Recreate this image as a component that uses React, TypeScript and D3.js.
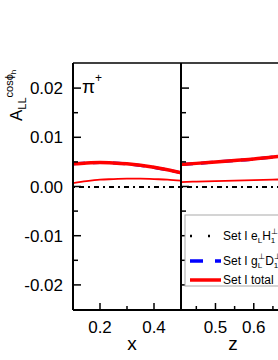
import * as d3 from "d3";

// left panel: x dependence
const xVals = [0.1, 0.15, 0.2, 0.25, 0.3, 0.35, 0.4, 0.45, 0.5];
const xTotal = [0.0046, 0.0048, 0.0049, 0.0048, 0.0046, 0.0043, 0.0039, 0.0034, 0.0028];
const xGD = [0.00458, 0.00478, 0.00488, 0.00478, 0.00458, 0.00428, 0.00388, 0.00338, 0.00278];
const xEH = [-0.0001, -0.0001, -0.0001, -0.0001, -0.0001, -0.0001, -0.0001, -0.0001, -0.0001];
const xSet2 = [0.0007, 0.0011, 0.0014, 0.0015, 0.0016, 0.0016, 0.0015, 0.0014, 0.0012];

// right panel: z dependence
const zVals = [0.41, 0.45, 0.5, 0.55, 0.6, 0.65, 0.7];
const zTotal = [0.0045, 0.0047, 0.005, 0.0053, 0.0056, 0.006, 0.0063];
const zGD = [0.00448, 0.00468, 0.00498, 0.00528, 0.00558, 0.00598, 0.00628];
const zEH = [-0.0001, -0.0001, -0.0001, -0.0001, -0.0001, -0.0001, -0.0001];
const zSet2 = [0.0009, 0.001, 0.0011, 0.0012, 0.0013, 0.0014, 0.0015];

const yMajor = [-0.02, -0.01, 0, 0.01, 0.02];
const yMinor = [-0.015, -0.005, 0.005, 0.015];
const xMajor = [0.2, 0.4];
const xMinor = [0.3];
const zMajor = [0.5, 0.6];
const zMinor = [0.45, 0.55, 0.65];

const TOP = 63;
const BOTTOM = 310;
const L0 = 73;
const MID = 181;
const R1 = 360;

const y = d3.scaleLinear().domain([-0.0251, 0.0251]).range([BOTTOM, TOP]);
const xs = d3.scaleLinear().domain([0.1, 0.5]).range([L0, MID]);
const zs = d3.scaleLinear().domain([0.41, 0.87]).range([MID, MID + 0.46 * 383]);

const styles = {
  eh: { stroke: "#000", width: 2, dash: "2,4,5,4" },
  gd: { stroke: "#0000ff", width: 3, dash: "12,8" },
  total: { stroke: "#ff0000", width: 3.5, dash: null },
  set2: { stroke: "#ff0000", width: 1.8, dash: null },
};

function path(sc: d3.ScaleLinear<number, number>, xv: number[], yv: number[]) {
  const line = d3
    .line<number>()
    .x((_, i) => sc(xv[i]))
    .y((d) => y(d))
    .curve(d3.curveMonotoneX);
  return line(yv) || "";
}

function Curves({ sc, xv, eh, gd, total, set2, clip }: any) {
  const list = [
    [set2, styles.set2],
    [eh, styles.eh],
    [gd, styles.gd],
    [total, styles.total],
  ];
  return (
    <g clipPath={`url(#${clip})`}>
      {list.map(([vals, s]: any, i) => (
        <path
          key={i}
          d={path(sc, xv, vals)}
          fill="none"
          stroke={s.stroke}
          strokeWidth={s.width}
          strokeDasharray={s.dash || undefined}
        />
      ))}
    </g>
  );
}

export default function App() {
  const font = "Arial, 'Liberation Sans', sans-serif";
  return (
    <svg
      width={278}
      height={360}
      style={{ position: "absolute", left: 0, top: 0, background: "#fff" }}
      fontFamily={font}
    >
      <defs>
        <clipPath id="clipL">
          <rect x={L0} y={TOP} width={MID - L0} height={BOTTOM - TOP} />
        </clipPath>
        <clipPath id="clipR">
          <rect x={MID} y={TOP} width={R1 - MID} height={BOTTOM - TOP} />
        </clipPath>
      </defs>

      <Curves sc={xs} xv={xVals} eh={xEH} gd={xGD} total={xTotal} set2={xSet2} clip="clipL" />
      <Curves sc={zs} xv={zVals} eh={zEH} gd={zGD} total={zTotal} set2={zSet2} clip="clipR" />

      {/* frame */}
      <line x1={L0} x2={R1} y1={TOP} y2={TOP} stroke="#000" strokeWidth={1.5} />
      <line x1={L0} x2={R1} y1={BOTTOM} y2={BOTTOM} stroke="#000" strokeWidth={2} />
      <line x1={L0} x2={L0} y1={TOP} y2={BOTTOM} stroke="#000" strokeWidth={2} />
      <line x1={MID} x2={MID} y1={TOP} y2={BOTTOM} stroke="#000" strokeWidth={2} />

      {/* y ticks on both panels' left axes */}
      {[L0, MID].map((ax) => (
        <g key={ax}>
          {yMajor.map((v) => (
            <line key={v} x1={ax} x2={ax + 8} y1={y(v)} y2={y(v)} stroke="#000" strokeWidth={1.5} />
          ))}
          {yMinor.map((v) => (
            <line key={v} x1={ax} x2={ax + 5} y1={y(v)} y2={y(v)} stroke="#000" strokeWidth={1.5} />
          ))}
        </g>
      ))}
      {yMajor.map((v) => (
        <text key={v} x={63} y={y(v)} dy="0.36em" textAnchor="end" fontSize={17}>
          {d3.format(".2f")(v).replace("−", "-")}
        </text>
      ))}

      {/* x ticks */}
      {xMajor.map((v) => (
        <g key={v}>
          <line x1={xs(v)} x2={xs(v)} y1={BOTTOM} y2={BOTTOM - 7} stroke="#000" strokeWidth={1.5} />
          <text x={xs(v)} y={333} textAnchor="middle" fontSize={17}>
            {v.toFixed(1)}
          </text>
        </g>
      ))}
      {xMinor.map((v) => (
        <line key={v} x1={xs(v)} x2={xs(v)} y1={BOTTOM} y2={BOTTOM - 4} stroke="#000" strokeWidth={1.5} />
      ))}
      {zMajor.map((v) => (
        <g key={v}>
          <line x1={zs(v)} x2={zs(v)} y1={BOTTOM} y2={BOTTOM - 7} stroke="#000" strokeWidth={1.5} />
          <text x={zs(v)} y={333} textAnchor="middle" fontSize={17}>
            {v.toFixed(1)}
          </text>
        </g>
      ))}
      {zMinor.map((v) => (
        <line key={v} x1={zs(v)} x2={zs(v)} y1={BOTTOM} y2={BOTTOM - 4} stroke="#000" strokeWidth={1.5} />
      ))}

      <text x={132} y={350} textAnchor="middle" fontSize={19}>x</text>
      <text x={233} y={350} textAnchor="middle" fontSize={19}>z</text>

      {/* y title */}
      <text transform="translate(22,121) rotate(-90)" fontSize={17}>
        A
        <tspan fontSize={11} dy={4}>LL</tspan>
        <tspan fontSize={11} dy={-13}>cosϕ</tspan>
        <tspan fontSize={8} dy={3}>h</tspan>
      </text>

      {/* hadron label */}
      <text x={82} y={93} fontSize={19}>
        π<tspan fontSize={12} dy={-11}>+</tspan>
      </text>

      {/* legend */}
      <rect x={185} y={215} width={120} height={71} fill="#fff" stroke="#aaa" strokeWidth={1} />
      {[
        { s: styles.eh, yy: 236 },
        { s: styles.gd, yy: 261 },
        { s: styles.total, yy: 280 },
      ].map(({ s, yy }, i) => (
        <line
          key={i}
          x1={190}
          x2={221}
          y1={yy}
          y2={yy}
          stroke={s.stroke}
          strokeWidth={i === 0 ? 2.5 : 3.5}
          strokeDasharray={i === 0 ? "2,16" : i === 1 ? "13,12" : undefined}
        />
      ))}
      <text x={223} y={240} fontSize={12}>
        Set I e<tspan fontSize={8} dy={3}>L</tspan>
        <tspan dy={-3}>H</tspan>
        <tspan fontSize={8} dy={3}>1</tspan>
        <tspan fontSize={8} dx={-4} dy={-9}>⊥</tspan>
      </text>
      <text x={223} y={265} fontSize={12}>
        Set I g<tspan fontSize={8} dy={3}>L</tspan>
        <tspan fontSize={8} dx={-4} dy={-9}>⊥</tspan>
        <tspan dy={6}>D</tspan>
        <tspan fontSize={8} dy={3}>1</tspan>
        <tspan fontSize={8} dx={-4} dy={-9}>⊥</tspan>
      </text>
      <text x={223} y={284} fontSize={12}>
        Set I total
      </text>
    </svg>
  );
}
